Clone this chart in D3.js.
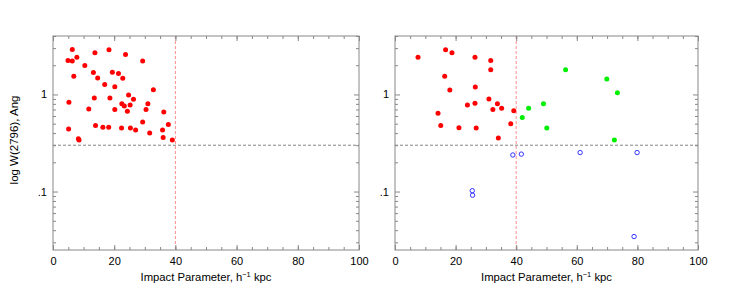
<!DOCTYPE html>
<html>
  <head>
    <title>W(2796) vs impact parameter</title>
    <script src="https://cdn.jsdelivr.net/npm/d3@7"></script>
    <style>
      body { margin: 0; background: #fff; }
      text { font-family: "Liberation Sans", Arial, sans-serif; fill: #000; }
    </style>
  </head>
  <body>
    <svg width="734" height="304" id="mainsvg"></svg>
    <script>
        // @数据
        // left panel: all absorbers
        const leftX = [6.3, 4.9, 6.3, 7.8, 13.7, 18.3, 23.7, 29.3, 10.4, 6.8, 13.2, 14.6, 19.4, 21.4, 22.8,
            16.9, 20.2, 32.8, 5.2, 13.5, 18.6, 24.7, 26.3, 22.5, 23.3, 25.2, 31.0, 11.7, 20.2, 24.3,
            30.4, 36.2, 29.3, 37.7, 5.1, 13.9, 16.3, 18.2, 22.4, 25.3, 27.0, 35.8, 31.6, 36.0, 8.3, 8.5, 39.0];
        const leftW = [2.91, 2.24, 2.21, 2.41, 2.69, 2.89, 2.58, 2.21, 1.99, 1.54, 1.68, 1.48, 1.69, 1.64, 1.47,
            1.27, 1.20, 1.12, 0.83, 0.92, 0.92, 0.99, 0.89, 0.80, 0.76, 0.78, 0.80, 0.71, 0.70, 0.67,
            0.70, 0.66, 0.52, 0.49, 0.44, 0.48, 0.46, 0.46, 0.45, 0.45, 0.43, 0.43, 0.40, 0.36, 0.35, 0.34, 0.34];

        // right panel: red = inside 40 kpc, green = outside, blue = weak / non-detections
        const redX = [7.6, 16.7, 18.8, 26.4, 31.6, 31.6, 16.4, 18.1, 26.5, 31.0, 23.9, 26.4, 33.8, 32.3, 35.2,
            39.2, 14.2, 15.1, 21.1, 26.8, 38.2, 34.1];
        const redW = [2.41, 2.89, 2.69, 2.41, 2.24, 1.80, 1.54, 1.11, 1.19, 0.90, 0.78, 0.81, 0.80, 0.70, 0.72,
            0.68, 0.64, 0.48, 0.455, 0.45, 0.50, 0.357];
        const greenX = [42.0, 44.1, 49.0, 50.1, 56.3, 69.9, 73.4, 72.4];
        const greenW = [0.58, 0.72, 0.80, 0.45, 1.80, 1.44, 1.04, 0.34];
        const blueX = [25.5, 25.6, 38.9, 41.7, 61.1, 79.9, 78.9];
        const blueW = [0.102, 0.0917, 0.238, 0.243, 0.252, 0.252, 0.0344];

        const xMajor = [0, 20, 40, 60, 80, 100];
        const xMinor = d3.range(0, 101, 5);
        const yMajor = [0.1, 1];
        const yMajorLabels = ['.1', '1'];
        const yMinor = [0.03, 0.04, 0.05, 0.06, 0.07, 0.08, 0.09, 0.2, 0.3, 0.4, 0.5, 0.6, 0.7, 0.8, 0.9, 2, 3, 4];
        const wCut = 0.3;
        const bCut = 40;

        // @画布
        const svg = d3.select('#mainsvg');
        const yTop = 36, yBottom = 250;
        const panels = [
            {x0: 53, x1: 359, sets: [{x: leftX, y: leftW, color: '#ff0000', open: false}]},
            {x0: 395, x1: 698, sets: [
                {x: redX, y: redW, color: '#ff0000', open: false},
                {x: greenX, y: greenW, color: '#00ee00', open: false},
                {x: blueX, y: blueW, color: '#3333ff', open: true}
            ]}
        ];
        const axisColor = '#888';

        const y = d3.scaleLog().domain([0.025, 4]).range([yBottom, yTop]);

        panels.forEach(function(p) {
            const x = d3.scaleLinear().domain([0, 100]).range([p.x0, p.x1]);
            const g = svg.append('g');

            // reference lines
            g.append('line')
                .attr('x1', p.x0).attr('x2', p.x1)
                .attr('y1', y(wCut)).attr('y2', y(wCut))
                .attr('stroke', '#666').attr('stroke-width', 0.8)
                .attr('stroke-dasharray', '3,2');
            g.append('line')
                .attr('x1', x(bCut)).attr('x2', x(bCut))
                .attr('y1', yTop).attr('y2', yBottom)
                .attr('stroke', '#ff7070').attr('stroke-width', 0.8)
                .attr('stroke-dasharray', '3,2');

            // axes, ticks pointing inwards
            const addAxis = function(axis, tx, ty, labels) {
                const a = g.append('g').attr('transform', `translate(${tx},${ty})`).call(axis);
                a.select('.domain').remove();
                a.selectAll('line').attr('stroke', axisColor);
                a.selectAll('text').style('font-size', '11px');
                if (!labels) a.selectAll('text').remove();
                return a;
            };
            addAxis(d3.axisBottom(x).tickValues(xMajor).tickSize(-5).tickPadding(7).tickFormat(d3.format('d')), 0, yBottom, true);
            addAxis(d3.axisBottom(x).tickValues(xMinor).tickSize(-3).tickFormat(''), 0, yBottom, false);
            addAxis(d3.axisTop(x).tickValues(xMajor).tickSize(-5).tickFormat(''), 0, yTop, false);
            addAxis(d3.axisTop(x).tickValues(xMinor).tickSize(-3).tickFormat(''), 0, yTop, false);
            addAxis(d3.axisLeft(y).tickValues(yMajor).tickSize(-5).tickPadding(6)
                .tickFormat((d, i) => yMajorLabels[i]), p.x0, 0, true);
            addAxis(d3.axisLeft(y).tickValues(yMinor).tickSize(-3).tickFormat(''), p.x0, 0, false);
            addAxis(d3.axisRight(y).tickValues(yMajor).tickSize(-5).tickFormat(''), p.x1, 0, false);
            addAxis(d3.axisRight(y).tickValues(yMinor).tickSize(-3).tickFormat(''), p.x1, 0, false);

            // frame
            g.append('rect')
                .attr('x', p.x0).attr('y', yTop)
                .attr('width', p.x1 - p.x0).attr('height', yBottom - yTop)
                .attr('fill', 'none').attr('stroke', axisColor).attr('stroke-width', 1);

            // points
            p.sets.forEach(function(s) {
                g.selectAll(null)
                    .data(s.x.map((d, i) => [d, s.y[i]]))
                    .enter().append('circle')
                    .attr('cx', d => x(d[0]))
                    .attr('cy', d => y(d[1]))
                    .attr('r', s.open ? 2.2 : 2.5)
                    .attr('fill', s.open ? 'none' : s.color)
                    .attr('stroke', s.open ? s.color : 'none')
                    .attr('stroke-width', 1);
            });

            // x title
            const t = g.append('text')
                .attr('x', (p.x0 + p.x1) / 2).attr('y', 281)
                .attr('text-anchor', 'middle')
                .style('font-size', '11.3px');
            t.append('tspan').text('Impact Parameter, h');
            t.append('tspan').attr('dy', -4).style('font-size', '7.5px').text('−1');
            t.append('tspan').attr('dy', 4).text(' kpc');
        });

        // y title
        svg.append('text')
            .attr('transform', `translate(18,${(yTop + yBottom) / 2 - 3}) rotate(-90)`)
            .attr('text-anchor', 'middle')
            .style('font-size', '11.5px')
            .text('log W(2796), Ang');
    </script>
  </body>
</html>
